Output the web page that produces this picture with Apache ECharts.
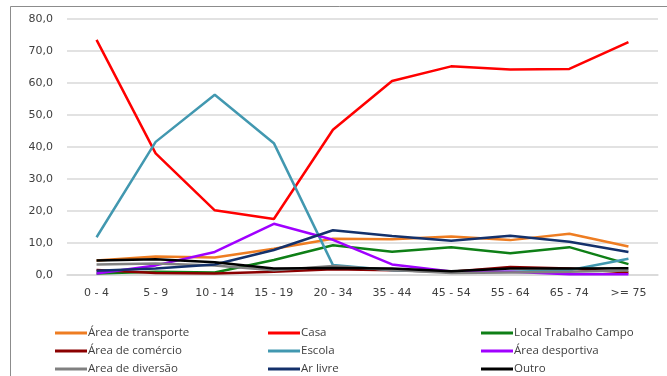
<!DOCTYPE html>
<html>
<head>
<meta charset="utf-8">
<script src="https://cdn.jsdelivr.net/npm/echarts@6/dist/echarts.min.js"></script>
<style>
  html, body { margin: 0; padding: 0; background: #fff; }
  #chart { width: 667px; height: 376px; }
</style>
</head>
<body>
<div id="chart"></div>
<script>
// Age groups on the category axis
const ageGroups = ['0 - 4', '5 - 9', '10 - 14', '15 - 19', '20 - 34', '35 - 44', '45 - 54', '55 - 64', '65 - 74', '>= 75'];

// Share (%) of each place, per age group
const areaTransporte   = [4.5, 5.8, 5.5, 8.2, 11.3, 11.2, 12.0, 10.9, 12.9, 8.9];
const casa             = [73.5, 38.0, 20.2, 17.5, 45.4, 60.6, 65.2, 64.2, 64.4, 72.8];
const localTrabalho    = [0.5, 1.0, 0.8, 4.7, 9.3, 7.3, 8.7, 6.8, 8.7, 3.4];
const areaComercio     = [1.6, 0.6, 0.5, 1.0, 1.8, 1.5, 1.0, 2.5, 2.0, 0.8];
const escola           = [11.8, 41.6, 56.3, 41.2, 3.1, 1.5, 1.0, 1.0, 1.5, 5.1];
const areaDesportiva   = [0.5, 3.0, 7.2, 16.0, 11.0, 3.3, 1.1, 1.0, 0.2, 0.2];
const areaDiversao     = [3.3, 3.6, 3.0, 1.5, 2.8, 1.6, 0.6, 0.8, 1.0, 1.4];
const arLivre          = [1.3, 2.0, 3.3, 7.8, 14.0, 12.2, 10.7, 12.3, 10.4, 7.2];
const outro            = [4.5, 4.9, 4.0, 2.0, 2.2, 2.0, 1.2, 2.0, 2.0, 2.1];

// Value axis ticks
const yMin = 0, yMax = 80, yStep = 10;

const seriesDefs = [
  { name: 'Área de transporte',   data: areaTransporte, color: '#EE7D22' },
  { name: 'Casa',                 data: casa,           color: '#FF0000' },
  { name: 'Local Trabalho Campo', data: localTrabalho,  color: '#0E7F16' },
  { name: 'Área de comércio',     data: areaComercio,   color: '#8B0000' },
  { name: 'Escola',               data: escola,         color: '#4298B0' },
  { name: 'Área desportiva',      data: areaDesportiva, color: '#A000FF' },
  { name: 'Area de diversão',     data: areaDiversao,   color: '#808080' },
  { name: 'Ar livre',             data: arLivre,        color: '#14316B' },
  { name: 'Outro',                data: outro,          color: '#000000' }
];

const legendColumns = [
  ['Área de transporte', 'Área de comércio', 'Area de diversão'],
  ['Casa', 'Escola', 'Ar livre'],
  ['Local Trabalho Campo', 'Área desportiva', 'Outro']
];
const legendLefts = [55, 268, 481];

const chart = echarts.init(document.getElementById('chart'), null, { renderer: 'canvas' });

chart.setOption({
  animation: false,
  backgroundColor: '#ffffff',
  grid: { left: 67, right: 9, top: 19, bottom: 101, containLabel: false },
  xAxis: {
    type: 'category',
    data: ageGroups,
    boundaryGap: true,
    axisLine: { show: true, lineStyle: { color: '#D9D9D9', width: 1.5 } },
    axisTick: { show: false },
    axisLabel: {
      color: '#404040',
      fontFamily: 'DejaVu Sans',
      fontSize: 11,
      margin: 13,
      interval: 0
    }
  },
  yAxis: {
    type: 'value',
    min: yMin,
    max: yMax,
    interval: yStep,
    axisLine: { show: false },
    axisTick: { show: false },
    splitLine: { lineStyle: { color: '#D9D9D9', width: 1.5 } },
    axisLabel: {
      color: '#404040',
      fontFamily: 'DejaVu Sans',
      fontSize: 11,
      margin: 14,
      formatter: v => v.toFixed(1).replace('.', ',')
    }
  },
  legend: legendColumns.map((names, i) => ({
    data: names,
    orient: 'vertical',
    left: legendLefts[i],
    top: 327,
    itemGap: 6,
    itemWidth: 32,
    itemHeight: 3,
    icon: 'rect',
    selectedMode: false,
    padding: 0,
    textStyle: {
      color: '#404040',
      fontFamily: 'Open Sans',
      fontSize: 11.5,
      padding: [0, 0, 0, -4],
      lineHeight: 12
    }
  })),
  series: seriesDefs.map(s => ({
    name: s.name,
    type: 'line',
    data: s.data,
    symbol: 'none',
    showSymbol: false,
    smooth: false,
    lineStyle: { color: s.color, width: 2.5 },
    itemStyle: { color: s.color },
    emphasis: { disabled: true }
  })),
  graphic: [
    {
      type: 'rect',
      shape: { x: 10.5, y: 6.5, width: 680, height: 400 },
      style: { fill: 'none', stroke: '#8C8C8C', lineWidth: 1 },
      silent: true,
      z: -1
    }
  ]
});
</script>
</body>
</html>
